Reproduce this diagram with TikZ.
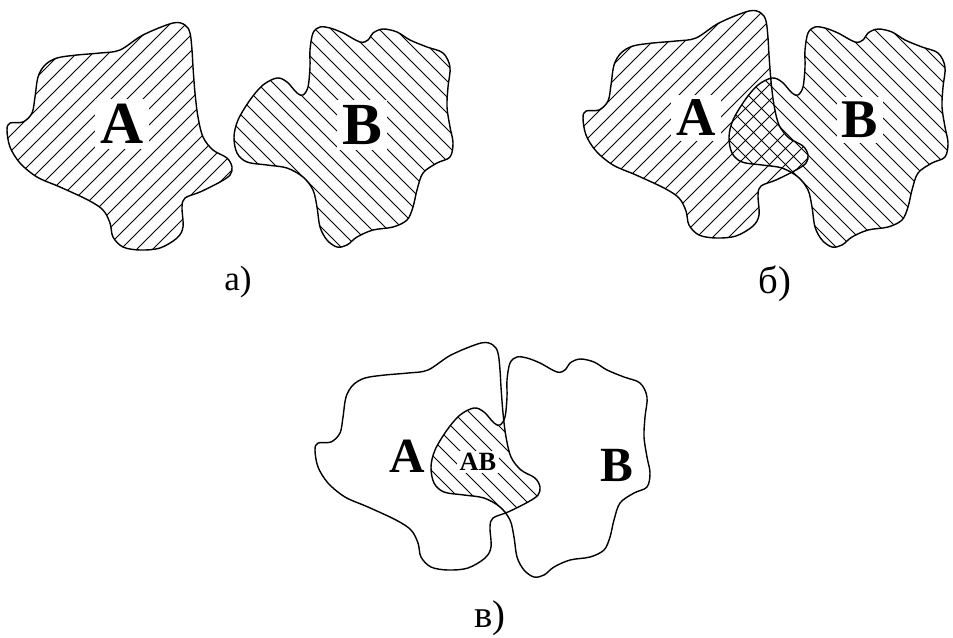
\documentclass[tikz,border=0pt]{standalone}
\usepackage{fontspec}
\setmainfont{Liberation Serif}
\begin{document}
\begin{tikzpicture}[x=0.02cm,y=-0.02cm,
  outline/.style={line width=0.8pt, line join=round},
  hatchline/.style={line width=0.45pt},
  biglabel/.style={font=\bfseries\fontsize{#1}{#1}\selectfont, fill=white, inner sep=3pt},
  sublabel/.style={font=\fontsize{#1}{#1}\selectfont, inner sep=0pt, anchor=base}]
\useasboundingbox (0,0) rectangle (953,637);

\def\shapeA{plot[smooth cycle, tension=0.55] coordinates {
 (143,35) (173,23) (185,25) (190,33) (192,50) (193,67) (195,93) (198,117) (203,137)
 (213,150) (227,158) (232,167) (230,175) (220,182) (200,192) (185,198) (182,207)
 (183,227) (177,238) (160,248) (140,250) (123,247) (113,237) (110,223) (103,210)
 (88,200) (60,187) (37,177) (20,163) (10,147) (7,130) (10,123) (23,122) (32,113)
 (35,97) (38,77) (45,65) (57,58) (77,55) (100,53) (120,50)}}
\def\shapeB{plot[smooth cycle, tension=0.55] coordinates {
 (313,33) (320,27) (330,28) (343,33) (360,42) (368,40) (373,33) (383,29) (397,32)
 (410,40) (427,47) (443,53) (450,67) (448,87) (447,107) (450,127) (453,143) (450,157)
 (437,163) (423,173) (417,190) (413,207) (407,220) (393,227) (373,230) (357,237)
 (347,245) (337,247) (327,240) (320,227) (317,207) (313,190) (303,177) (287,168)
 (267,165) (247,162) (237,153) (234,137) (238,120) (250,100) (263,85) (277,78)
 (287,82) (297,93) (303,95) (308,87) (310,67) (310,50)}}
\newcommand\hatchNE{\foreach \s in {-20,-4,...,540} {\draw[hatchline] (\s,-10) -- (\s-290,280);}}
\newcommand\hatchNW{\foreach \s in {-300,-284,...,480} {\draw[hatchline] (\s,-10) -- (\s+290,280);}}

% ---------- panel a ----------
\begin{scope}\clip \shapeA; \hatchNE \end{scope}
\begin{scope}\clip \shapeB; \hatchNW \end{scope}
\node[biglabel=34] (aA) at (122,124) {A};
\node[biglabel=34] (aB) at (362,125) {B};
\draw[outline] \shapeA;
\draw[outline] \shapeB;
\node[sublabel=20] (capa) at (238,290) {а)};

% ---------- panel b ----------
\begin{scope}[shift={(576,-12)}]\clip \shapeA; \hatchNE \end{scope}
\begin{scope}[shift={(495,0)}]\clip \shapeB; \hatchNW \end{scope}
\node[biglabel=31] (bA) at (696,118) {A};
\node[biglabel=31] (bB) at (860,120) {B};
\draw[outline,shift={(576,-12)}] \shapeA;
\draw[outline,shift={(495,0)}] \shapeB;
\node[sublabel=22] (capb) at (775,293) {б)};

% ---------- panel c ----------
\begin{scope}[shift={(308,320)}]
  \clip \shapeA;
  \begin{scope}[shift={(-111,10)}]\clip \shapeB; \hatchNW \end{scope}
\end{scope}
\node[biglabel=28] (cA) at (407,456) {A};
\node[biglabel=28] (cB) at (617,465) {B};
\node[biglabel=15, inner sep=1.5pt] (cAB) at (478,462) {AB};
\draw[outline,shift={(308,320)}] \shapeA;
\draw[outline,shift={(197,330)}] \shapeB;
\node[sublabel=22] (capc) at (490,627) {в)};
\end{tikzpicture}
\end{document}
